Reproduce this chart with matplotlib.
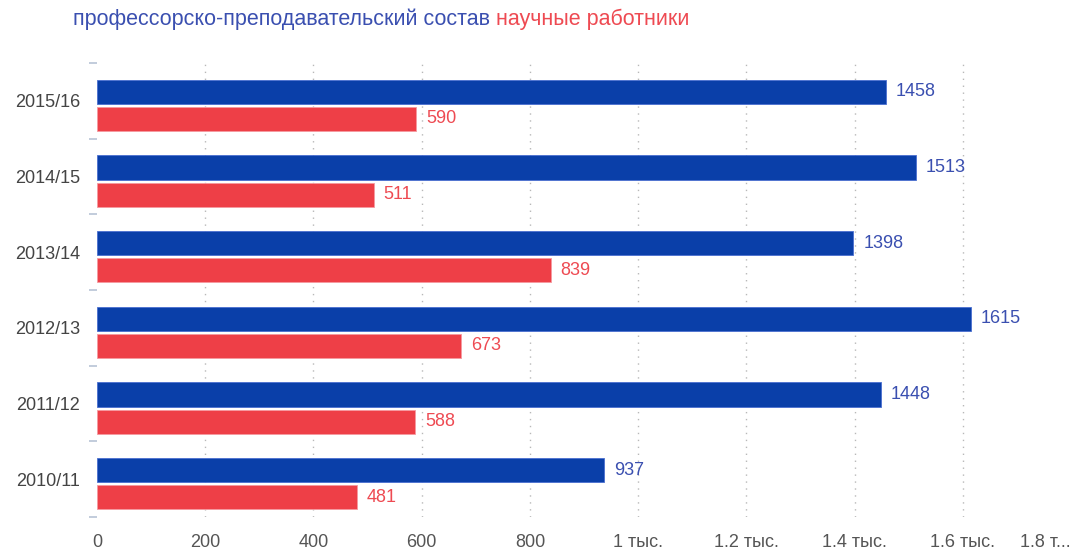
import matplotlib
matplotlib.use("Agg")
import matplotlib.pyplot as plt
import numpy as np

plt.rcParams['font.family'] = ['Liberation Sans', 'DejaVu Sans']

years = ["2010/11", "2011/12", "2012/13", "2013/14", "2014/15", "2015/16"]
staff = [937, 1448, 1615, 1398, 1513, 1458]
research = [481, 588, 673, 839, 511, 590]
series_names = ["профессорско-преподавательский состав", "научные работники"]
xticks = [0, 200, 400, 600, 800, 1000, 1200, 1400, 1600, 1800]
xtick_labels = ["0", "200", "400", "600", "800", "1 тыс.", "1.2 тыс.", "1.4 тыс.", "1.6 тыс.", "1.8 т..."]

blue = "#0a3fa9"
red = "#ee3f47"
blue_txt = "#3a4fb0"
red_txt = "#ee4a52"

fig = plt.figure(figsize=(10.75, 5.51), dpi=100)
ax = fig.add_axes([97/1075, 1-517/551, (1071-97)/1075, (517-63)/551])

y = np.arange(len(years))
off_blue = 0.12
off_red = -0.24
h = 0.32
ax.barh(y + off_blue, staff, height=h, color=blue, edgecolor="#4a6fd0", linewidth=0.6, zorder=3)
ax.barh(y + off_red, research, height=h, color=red, edgecolor="#f59aa0", linewidth=0.6, zorder=3)

for yi, v in zip(y, staff):
    ax.annotate(str(v), xy=(v, yi + off_blue), xytext=(7, 0), textcoords="offset points",
                va="center", ha="left", fontsize=13, color=blue_txt)
for yi, v in zip(y, research):
    ax.annotate(str(v), xy=(v, yi + off_red), xytext=(7, 0), textcoords="offset points",
                va="center", ha="left", fontsize=13, color=red_txt)

ax.set_xlim(0, 1800)
ax.set_ylim(-0.5, len(years) - 0.5)

for xv in xticks[1:-1]:
    ax.axvline(xv, color="#b8b8b8", linestyle=(0, (1, 4)), linewidth=1.0, zorder=1)

ax.set_xticks(xticks)
ax.set_xticklabels(xtick_labels, fontsize=13, color="#555555")
ax.tick_params(axis="x", length=0, pad=12)
labs = ax.get_xticklabels()
labs[-1].set_horizontalalignment("right")

ax.set_yticks(y)
ax.set_yticklabels(years, fontsize=13, color="#444444")
ax.tick_params(axis="y", which="major", length=0, pad=12)
ax.set_yticks(np.arange(-0.5, len(years), 1.0), minor=True)
ax.tick_params(axis="y", which="minor", length=6, width=1.2, color="#b8c4d6")

for s in ax.spines.values():
    s.set_visible(False)

t1 = fig.text(73/1075, 1-19/551, series_names[0], fontsize=15.5, color=blue_txt, va="center", ha="left")
ax.annotate(series_names[1], xy=(1, 0.5), xycoords=t1, xytext=(4, 0), textcoords="offset points",
            va="center", ha="left", fontsize=15.5, color=red_txt, annotation_clip=False)

fig.savefig("out.png", dpi=100)
